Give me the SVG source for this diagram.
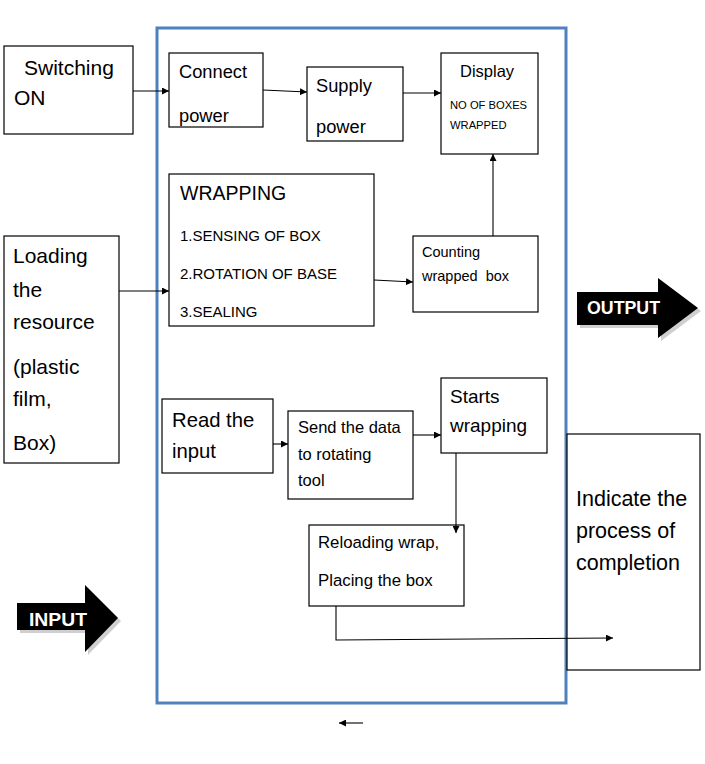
<svg xmlns="http://www.w3.org/2000/svg" width="705" height="764" viewBox="0 0 705 764">
<defs>
<style>
.box{fill:#fff;stroke:#000;stroke-width:1.2}
.t{font-family:"Liberation Sans",Arial,sans-serif;fill:#000}
.ln{fill:none;stroke:#000;stroke-width:1.1}
.bt{font-family:"Liberation Sans",Arial,sans-serif;font-weight:bold;fill:#fff}
</style>
<marker id="ah" viewBox="0 0 10 10" refX="10" refY="5" markerWidth="7" markerHeight="7" markerUnits="userSpaceOnUse" orient="auto">
<path d="M0,0 L10,5 L0,10 z" fill="#000"/>
</marker>
</defs>
<rect width="705" height="764" fill="#fff"/>
<rect id="frame" x="157" y="28" width="409" height="675" fill="none" stroke="#4f81bd" stroke-width="3"/>

<g id="switching">
<rect class="box" x="4" y="46" width="129" height="88"/>
<text class="t" x="24" y="75" font-size="21">Switching</text>
<text class="t" x="14" y="105" font-size="21">ON</text>
</g>
<g id="loading">
<rect class="box" x="4" y="236" width="115" height="227"/>
<text class="t" x="13" y="263" font-size="21">Loading</text>
<text class="t" x="13" y="297" font-size="21">the</text>
<text class="t" x="13" y="329" font-size="21">resource</text>
<text class="t" x="13" y="374" font-size="21">(plastic</text>
<text class="t" x="13" y="406" font-size="21">film,</text>
<text class="t" x="13" y="450" font-size="21">Box)</text>
</g>
<g id="connect">
<rect class="box" x="169" y="53" width="94" height="74"/>
<text class="t" x="179" y="78" font-size="18.3">Connect</text>
<text class="t" x="179" y="122" font-size="18.3">power</text>
</g>
<g id="supply">
<rect class="box" x="307" y="67" width="96" height="74"/>
<text class="t" x="316" y="92" font-size="18.3">Supply</text>
<text class="t" x="316" y="133" font-size="18.3">power</text>
</g>
<g id="display">
<rect class="box" x="441" y="53" width="97" height="101"/>
<text class="t" x="460" y="77" font-size="16.5">Display</text>
<text class="t" x="450" y="109" font-size="11.2">NO OF BOXES</text>
<text class="t" x="450" y="129" font-size="11.2">WRAPPED</text>
</g>
<g id="wrapping">
<rect class="box" x="169" y="174" width="205" height="152"/>
<text class="t" x="180" y="200" font-size="19.5">WRAPPING</text>
<text class="t" x="180" y="241" font-size="15">1.SENSING OF BOX</text>
<text class="t" x="180" y="279" font-size="15">2.ROTATION OF BASE</text>
<text class="t" x="180" y="317" font-size="15">3.SEALING</text>
</g>
<g id="counting">
<rect class="box" x="413" y="236" width="125" height="76"/>
<text class="t" x="422" y="257" font-size="14.5">Counting</text>
<text class="t" x="422" y="281" font-size="14.5" xml:space="preserve">wrapped  box</text>
</g>
<g id="read">
<rect class="box" x="162" y="399" width="111" height="74"/>
<text class="t" x="172" y="427" font-size="20.3">Read the</text>
<text class="t" x="172" y="458" font-size="20.3">input</text>
</g>
<g id="send">
<rect class="box" x="288" y="411" width="125" height="88"/>
<text class="t" x="298" y="433" font-size="16.5">Send the data</text>
<text class="t" x="298" y="460" font-size="16.5">to rotating</text>
<text class="t" x="298" y="486" font-size="16.5">tool</text>
</g>
<g id="starts">
<rect class="box" x="441" y="378" width="106" height="75"/>
<text class="t" x="450" y="403" font-size="19">Starts</text>
<text class="t" x="450" y="432" font-size="19">wrapping</text>
</g>
<g id="reloading">
<rect class="box" x="309" y="525" width="155" height="81"/>
<text class="t" x="318" y="548" font-size="16.8">Reloading wrap,</text>
<text class="t" x="318" y="586" font-size="16.8">Placing the box</text>
</g>
<g id="indicate">
<rect class="box" x="567" y="434" width="133" height="236"/>
<text class="t" x="576" y="506" font-size="21.5">Indicate the</text>
<text class="t" x="576" y="538" font-size="21.5">process of</text>
<text class="t" x="576" y="570" font-size="21.5">completion</text>
</g>

<g id="output-arrow">
<polygon points="580,295 661,295 661,281 701,311 661,341 661,328 580,328" fill="#cfcfcf"/>
<polygon points="577,292 658,292 658,278 698,308 658,338 658,325 577,325" fill="#000"/>
<text class="bt" x="587" y="314" font-size="17.5" textLength="73" lengthAdjust="spacingAndGlyphs">OUTPUT</text>
</g>
<g id="input-arrow">
<polygon points="20,606 88,606 88,588 121,621 88,655 88,633 20,633" fill="#cfcfcf"/>
<polygon points="17,603 85,603 85,585 118,618 85,652 85,630 17,630" fill="#000"/>
<text class="bt" x="29" y="626" font-size="19" textLength="58" lengthAdjust="spacingAndGlyphs">INPUT</text>
</g>

<g id="connectors">
<line class="ln" x1="133" y1="91" x2="169" y2="91" marker-end="url(#ah)"/>
<line class="ln" x1="263" y1="90" x2="307" y2="92" marker-end="url(#ah)"/>
<line class="ln" x1="403" y1="93" x2="441" y2="93" marker-end="url(#ah)"/>
<line class="ln" x1="493" y1="236" x2="493" y2="154" marker-end="url(#ah)"/>
<line class="ln" x1="119" y1="291" x2="169" y2="291" marker-end="url(#ah)"/>
<line class="ln" x1="374" y1="280" x2="413" y2="282" marker-end="url(#ah)"/>
<line class="ln" x1="273" y1="444" x2="288" y2="444" marker-end="url(#ah)"/>
<line class="ln" x1="413" y1="435" x2="441" y2="435" marker-end="url(#ah)"/>
<line class="ln" x1="456" y1="453" x2="456" y2="533" marker-end="url(#ah)"/>
<polyline class="ln" points="336,606 336,640 613,638" marker-end="url(#ah)"/>
<line class="ln" x1="363" y1="723" x2="339" y2="723" marker-end="url(#ah)"/>
</g>
</svg>
